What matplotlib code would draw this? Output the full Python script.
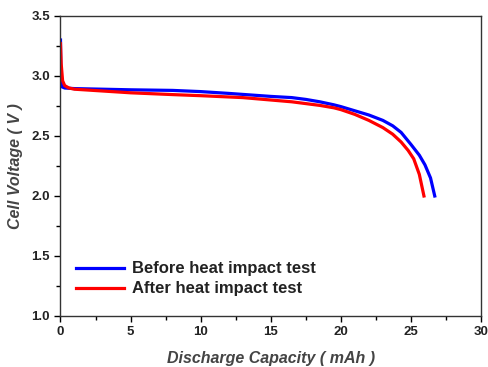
import matplotlib
matplotlib.use('Agg')
import matplotlib.pyplot as plt
from matplotlib.ticker import MultipleLocator

plt.rcParams['font.family'] = ['Liberation Sans', 'DejaVu Sans']

# discharge curves
cap_before = [0.0, 0.03, 0.1, 0.3, 1, 3, 5, 8, 10, 12, 15, 16.5, 17.5, 18.5,
              19.5, 20, 21, 22, 23, 23.7, 24.3, 25, 25.6, 26.0, 26.4, 26.7]
volt_before = [3.30, 2.95, 2.91, 2.90, 2.895, 2.89, 2.885, 2.88, 2.87, 2.855,
               2.83, 2.82, 2.805, 2.785, 2.76, 2.745, 2.71, 2.675, 2.63, 2.585,
               2.53, 2.43, 2.34, 2.26, 2.15, 2.0]
cap_after = [0.0, 0.05, 0.15, 0.3, 0.6, 1, 3, 5, 8, 10, 13, 15, 16.5, 17.5,
             18.5, 19.5, 20, 21, 22, 23, 23.7, 24.3, 24.8, 25.2, 25.6, 25.93]
volt_after = [3.27, 3.10, 2.96, 2.92, 2.90, 2.89, 2.875, 2.86, 2.845, 2.836,
              2.82, 2.80, 2.785, 2.77, 2.755, 2.735, 2.72, 2.68, 2.63, 2.57,
              2.515, 2.45, 2.38, 2.31, 2.18, 2.0]

fig = plt.figure(figsize=(4.89, 3.67), dpi=100)
ax = fig.add_axes([60.5 / 489, 1 - 316 / 367, 420.5 / 489, 300 / 367])

ax.plot(cap_before, volt_before, color='#0000ff', lw=2.3, label='Before heat impact test')
ax.plot(cap_after, volt_after, color='#ff0000', lw=2.3, label='After heat impact test')

ax.set_xlim(0, 30)
ax.set_ylim(1.0, 3.5)
ax.xaxis.set_major_locator(MultipleLocator(5))
ax.xaxis.set_minor_locator(MultipleLocator(2.5))
ax.yaxis.set_major_locator(MultipleLocator(0.5))
ax.yaxis.set_minor_locator(MultipleLocator(0.25))
ax.tick_params(which='major', direction='out', length=4.5, width=1, labelsize=9.5,
               labelcolor='#222222', pad=3)
ax.tick_params(which='minor', direction='out', length=3, width=1)
for lab in ax.get_xticklabels() + ax.get_yticklabels():
    lab.set_fontweight('bold')
for s in ax.spines.values():
    s.set_linewidth(1.0)
    s.set_color('#333333')

ax.set_xlabel('Discharge Capacity ( mAh )', fontsize=11.5, style='italic', fontweight='bold',
              color='#444444', labelpad=9)
ax.set_ylabel('Cell Voltage ( V )', fontsize=11.5, style='italic', fontweight='bold',
              color='#444444', labelpad=6)

leg = ax.legend(loc='lower left', bbox_to_anchor=(0.0, 0.015), frameon=False,
                prop={'size': 12, 'weight': 'bold'}, handlelength=2.9,
                handletextpad=0.5, labelspacing=0.3)
for t in leg.get_texts():
    t.set_color('#222222')

fig.savefig('out.png', dpi=100)
